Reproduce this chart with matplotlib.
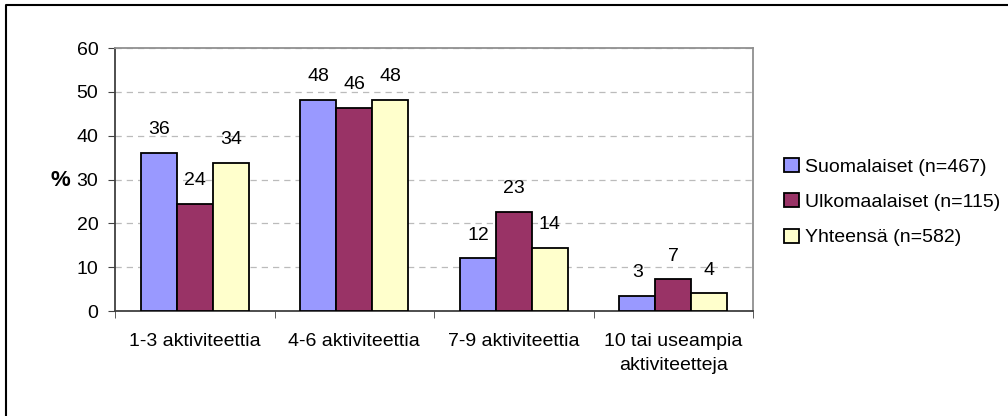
import matplotlib.pyplot as plt
import numpy as np
from matplotlib.lines import Line2D

plt.rcParams['font.family'] = ['Liberation Sans', 'DejaVu Sans']

# data
categories = ["1-3 aktiviteettia", "4-6 aktiviteettia", "7-9 aktiviteettia",
               "10 tai useampia\naktiviteetteja"]
suomalaiset = [36.0, 48.2, 12.0, 3.4]
ulkomaalaiset = [24.4, 46.4, 22.7, 7.2]
yhteensa = [33.8, 48.1, 14.3, 4.0]
series_names = ["Suomalaiset (n=467)", "Ulkomaalaiset (n=115)", "Yhteensä (n=582)"]
colors = ["#9999FF", "#993366", "#FFFFCC"]

fs = 14

fig = plt.figure(figsize=(10.08, 4.16), dpi=100)
ax = fig.add_axes([0.1141, 0.2524, 0.633, 0.6322])

x = np.arange(len(categories))
w = 0.225
all_series = [suomalaiset, ulkomaalaiset, yhteensa]
for i, (vals, name, c) in enumerate(zip(all_series, series_names, colors)):
    pos = x + (i - 1) * w
    bars = ax.bar(pos, vals, w, color=c, edgecolor="black", linewidth=1.3,
                  label=name, zorder=3)
    for b, v in zip(bars, vals):
        ax.text(b.get_x() + b.get_width() / 2, v + 4.3, f"{v:.0f}",
                ha="center", va="baseline", fontsize=fs)

ax.set_xlim(-0.5, len(categories) - 0.5)
ax.set_ylim(0, 60)
ax.set_yticks(range(0, 61, 10))
ax.tick_params(axis="y", labelsize=fs, length=5, pad=7, direction="out",
               color="#404040")
ax.set_xticks(x)
ax.set_xticklabels(categories, fontsize=fs, linespacing=1.55)
ax.tick_params(axis="x", length=0, pad=16)
ax.set_xticks(np.arange(-0.5, len(categories)), minor=True)
ax.tick_params(axis="x", which="minor", length=5, color="#404040")

ax.yaxis.grid(True, linestyle=(0, (5, 4)), color="#BBBBBB", linewidth=0.9, zorder=0)
for s in ["top", "right"]:
    ax.spines[s].set_color("#909090")
    ax.spines[s].set_linewidth(1.3)
for s in ["left", "bottom"]:
    ax.spines[s].set_color("#404040")
    ax.spines[s].set_linewidth(1.3)

# "%" axis title, left of the tick labels
fig.text(60 / 1008, 1 - 181 / 416, "%", fontsize=16, fontweight="bold",
         ha="center", va="center")

leg = ax.legend(loc="center left", bbox_to_anchor=(1.034, 0.414), frameon=False,
                fontsize=fs, handlelength=0.75, handleheight=0.75, borderpad=0,
                handletextpad=0.3, labelspacing=0.9)

# chart border: only top and left edges are inside the picture
fig.lines.append(Line2D([0.006, 0.006, 1.0], [0.0, 0.988, 0.988],
                        transform=fig.transFigure, color="black", linewidth=1.5))

fig.savefig("out.png", dpi=100)
